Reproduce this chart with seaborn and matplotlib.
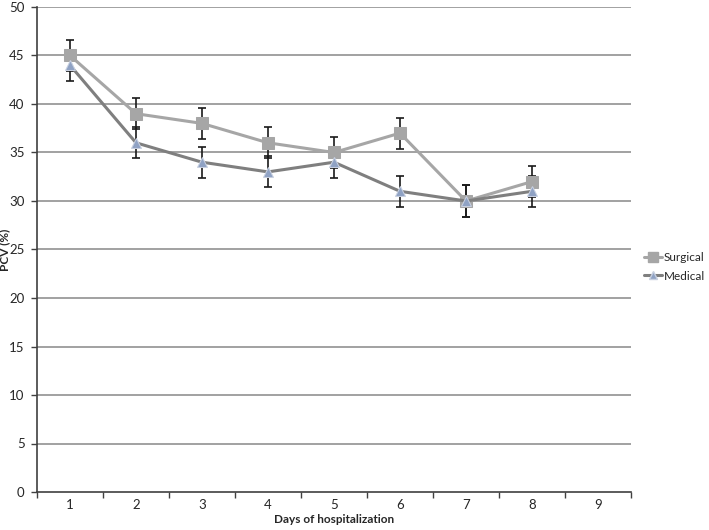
import matplotlib
matplotlib.use("Agg")
import matplotlib.pyplot as plt
import seaborn as sns
import pandas as pd
import numpy as np
from matplotlib.lines import Line2D

days = [1, 2, 3, 4, 5, 6, 7, 8]
surgical = [45, 39, 38, 36, 35, 37, 30, 32]
medical = [44, 36, 34, 33, 34, 31, 30, 31]
surgical_err = [1.6, 1.6, 1.6, 1.6, 1.6, 1.6, 1.6, 1.6]
medical_err = [1.6, 1.6, 1.6, 1.6, 1.6, 1.6, 1.6, 1.6]
x_labels = ["1", "2", "3", "4", "5", "6", "7", "8", "9"]
y_ticks = [0, 5, 10, 15, 20, 25, 30, 35, 40, 45, 50]

df = pd.DataFrame({
    "day": days * 2,
    "pcv": surgical + medical,
    "err": surgical_err + medical_err,
    "group": ["Surgical"] * len(days) + ["Medical"] * len(days),
})

sns.set_theme(style="white")
plt.rcParams["font.family"] = ["Lato", "DejaVu Sans"]

fig = plt.figure(figsize=(7.09, 5.30), dpi=100)
ax = fig.add_axes([37 / 709, 1 - 492 / 530, (631 - 37) / 709, (492 - 7) / 530])

for yv in y_ticks[1:]:
    ax.axhline(yv, color="#9a9a9a", lw=1.3, zorder=0)

palette = {"Surgical": "#a6a6a6", "Medical": "#7f7f7f"}
markers = {"Surgical": "s", "Medical": "^"}

for g in ["Surgical", "Medical"]:
    sub = df[df["group"] == g]
    ax.errorbar(sub["day"], sub["pcv"], yerr=sub["err"], fmt="none",
                ecolor="#1a1a1a", elinewidth=1.2, capsize=3, capthick=1.2, zorder=2)

sns.lineplot(data=df, x="day", y="pcv", hue="group", style="group",
             palette=palette, markers=markers, dashes=False, lw=2.2,
             markersize=8, ax=ax, legend=False, zorder=3)
for l in ax.get_lines():
    if l.get_marker() == "^":
        l.set_markerfacecolor("#8fa2c4")
        l.set_markeredgecolor("#c8d0e0")
        l.set_markersize(7)
    elif l.get_marker() == "s":
        l.set_markerfacecolor("#a6a6a6")
        l.set_markeredgecolor("#a6a6a6")

ax.set_xlim(0.5, 9.5)
ax.set_ylim(0, 50)
ax.set_yticks(y_ticks)
ax.set_yticklabels([str(v) for v in y_ticks], fontsize=9.5)
ax.set_xticks(np.arange(0.5, 10, 1))
ax.set_xticklabels([])
ax.set_xticks(np.arange(1, 10), minor=True)
ax.set_xticklabels(x_labels, minor=True, fontsize=9.5)
ax.tick_params(axis="x", which="major", direction="out", length=4, width=1, color="#404040", bottom=True)
ax.tick_params(axis="x", which="minor", length=0, pad=5)
ax.tick_params(axis="y", direction="out", length=4, width=1, color="#404040", left=True, pad=5)

for s in ["top", "right"]:
    ax.spines[s].set_visible(False)
for s in ["left", "bottom"]:
    ax.spines[s].set_color("#404040")
    ax.spines[s].set_linewidth(1.2)

ax.set_xlabel("Days of hospitalization", fontsize=8.5, fontweight="bold", labelpad=2)
ax.set_ylabel("PCV (%)", fontsize=8.5, fontweight="bold")
ax.yaxis.set_label_coords(-27 / 594, 0.5)
ax.grid(False)

handles = [
    Line2D([], [], color="#a6a6a6", lw=2.2, marker="s", markersize=7,
           markerfacecolor="#a6a6a6", markeredgecolor="#a6a6a6"),
    Line2D([], [], color="#7f7f7f", lw=2.2, marker="^", markersize=6,
           markerfacecolor="#8fa2c4", markeredgecolor="#c8d0e0"),
]
fig.legend(handles, ["Surgical", "Medical"], loc="center left",
           bbox_to_anchor=(644 / 709, 1 - 267 / 530), frameon=False, fontsize=8.5,
           handlelength=1.5, handletextpad=0.2, labelspacing=0.6, borderpad=0.0,
           borderaxespad=0)

fig.savefig("out.png", dpi=100)
